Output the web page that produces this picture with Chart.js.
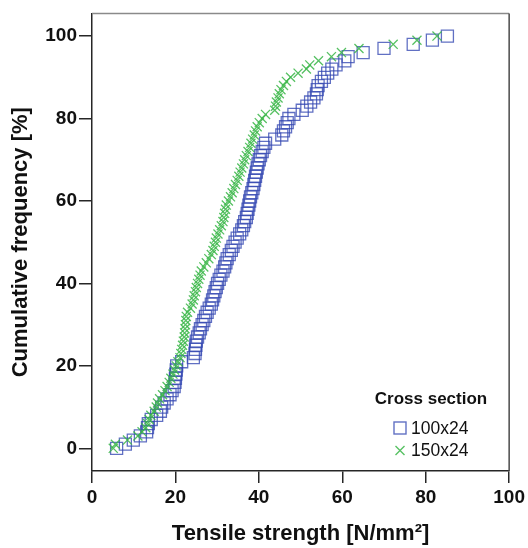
<!DOCTYPE html>
<html>
<head>
<meta charset="utf-8">
<script src="https://cdn.jsdelivr.net/npm/chart.js@4/dist/chart.umd.min.js"></script>
<style>
  html, body { margin: 0; padding: 0; background: #ffffff; }
  #wrap { width: 528px; height: 548px; }
</style>
</head>
<body>
<div id="wrap"><canvas id="c" width="528" height="548"></canvas></div>
<script>
// ---- data (tensile strength, N/mm², sorted) ----
const seriesNames = ["100x24", "150x24"];
const strength100x24 = [
  5.9, 8.0, 9.9, 11.6, 13.1, 13.3, 13.5, 14.2, 15.5, 16.4,
  16.7, 17.3, 18.0, 18.7, 19.2, 19.7, 19.9, 20.0, 20.1, 20.2,
  20.3, 21.5, 24.3, 24.7, 24.8, 24.9, 25.0, 25.3, 25.7, 26.0,
  26.4, 26.8, 27.2, 27.6, 28.1, 28.6, 28.9, 29.2, 29.5, 29.8,
  30.1, 30.5, 30.9, 31.4, 31.8, 32.1, 32.4, 32.9, 33.4, 33.8,
  34.3, 34.8, 35.4, 35.9, 36.3, 36.6, 37.0, 37.2, 37.4, 37.6,
  37.8, 38.0, 38.3, 38.6, 38.8, 39.0, 39.2, 39.4, 39.6, 39.8,
  40.1, 40.4, 40.8, 41.2, 41.6, 43.8, 45.5, 45.9, 46.4, 46.8,
  47.2, 48.4, 50.4, 51.5, 52.4, 53.2, 53.8, 54.0, 54.2, 55.0,
  55.7, 56.5, 57.5, 58.5, 60.6, 61.4, 65.0, 70.0, 77.0, 81.6,
  85.2
];
const strength150x24 = [
  5.1, 5.6, 8.5, 11.0, 12.0, 12.9, 13.3, 13.7, 14.1, 14.9,
  15.4, 15.7, 16.2, 16.9, 17.5, 18.0, 18.5, 18.9, 19.4, 19.8,
  20.2, 20.6, 21.1, 21.3, 21.5, 21.7, 21.9, 22.1, 22.2, 22.3,
  22.4, 22.5, 22.6, 22.9, 23.6, 24.0, 24.3, 24.5, 24.8, 25.0,
  25.3, 25.6, 25.9, 26.2, 26.8, 27.4, 28.0, 28.6, 29.0, 29.3,
  29.6, 29.8, 30.2, 30.6, 31.0, 31.4, 31.6, 31.8, 32.0, 32.2,
  32.7, 33.2, 33.6, 34.0, 34.4, 34.8, 35.2, 35.5, 35.9, 36.3,
  36.6, 37.0, 37.4, 37.8, 38.1, 38.5, 38.9, 39.2, 39.6, 40.1,
  40.8, 41.6, 43.8, 44.0, 44.2, 44.6, 44.9, 45.3, 45.9, 46.6,
  47.6, 49.4, 51.4, 52.2, 54.3, 57.4, 59.8, 64.0, 72.2, 77.9,
  82.7
];
const xTickValues = [0, 20, 40, 60, 80, 100];
const yTickValues = [0, 20, 40, 60, 80, 100];
const legendTitle = "Cross section";
const xTitle = "Tensile strength [N/mm²]";
const yTitle = "Cumulative frequency [%]";

// empirical cumulative frequency (%) of each sorted sample
function cumulative(values) {
  const s = values.slice().sort((a, b) => a - b);
  const n = s.length;
  return s.map((v, i) => ({ x: v, y: (i / (n - 1)) * 100 }));
}

const FONT = '"Liberation Sans", Arial, Helvetica, sans-serif';
const BLUE = 'rgba(52, 72, 178, 0.78)';
const GREEN = 'rgba(58, 182, 72, 0.85)';
const AXIS = '#262626';

const framePlugin = {
  id: 'frame',
  afterDraw(chart) {
    const { ctx, chartArea: a } = chart;
    ctx.save();
    ctx.strokeStyle = '#8a8a8a';
    ctx.lineWidth = 1.5;
    ctx.beginPath();
    ctx.moveTo(a.left, a.top);
    ctx.lineTo(a.right, a.top);
    ctx.stroke();
    ctx.strokeStyle = '#4a4a4a';
    ctx.beginPath();
    ctx.moveTo(a.right, a.top);
    ctx.lineTo(a.right, a.bottom);
    ctx.stroke();

    // legend inside the plot
    ctx.fillStyle = '#111';
    ctx.textBaseline = 'middle';
    ctx.textAlign = 'center';
    ctx.font = 'bold 17px ' + FONT;
    ctx.fillText(legendTitle, 431, 399);
    ctx.textAlign = 'left';
    ctx.font = '17.5px ' + FONT;
    ctx.fillText(seriesNames[0], 411, 429);
    ctx.fillText(seriesNames[1], 411, 451);
    // markers
    ctx.lineWidth = 1.4;
    ctx.strokeStyle = BLUE;
    ctx.strokeRect(394, 422, 12, 12);
    ctx.strokeStyle = GREEN;
    ctx.beginPath();
    ctx.moveTo(395.5, 446); ctx.lineTo(404.5, 455);
    ctx.moveTo(404.5, 446); ctx.lineTo(395.5, 455);
    ctx.stroke();
    ctx.restore();
  }
};

new Chart(document.getElementById('c'), {
  type: 'scatter',
  data: {
    datasets: [
      {
        label: seriesNames[0],
        data: cumulative(strength100x24),
        pointStyle: 'rect',
        pointRadius: 8.5,
        pointHoverRadius: 8.5,
        borderWidth: 1.3,
        borderColor: BLUE,
        backgroundColor: 'rgba(0,0,0,0)',
        order: 2
      },
      {
        label: seriesNames[1],
        data: cumulative(strength150x24),
        pointStyle: 'crossRot',
        pointRadius: 6.4,
        pointHoverRadius: 6.4,
        borderWidth: 1.3,
        borderColor: GREEN,
        backgroundColor: GREEN,
        order: 1
      }
    ]
  },
  options: {
    responsive: false,
    animation: false,
    devicePixelRatio: 1,
    layout: { padding: { top: 12, right: 18, left: 0, bottom: 0 } },
    plugins: {
      legend: { display: false },
      tooltip: { enabled: false }
    },
    scales: {
      x: {
        type: 'linear',
        min: 0,
        max: 100,
        afterBuildTicks(scale) { scale.ticks = xTickValues.map(v => ({ value: v })); },
        afterFit(scale) { scale.height = 77; },
        grid: { display: true, drawOnChartArea: false, drawTicks: true, tickLength: 12, color: AXIS, lineWidth: 1.5 },
        border: { display: true, color: AXIS, width: 1.5 },
        ticks: { color: '#111', padding: 3, maxRotation: 0, font: { family: FONT, size: 19, weight: 'bold' } },
        title: { display: true, text: xTitle, color: '#111', padding: { top: 0, bottom: 1 }, font: { family: FONT, size: 22, weight: 'bold' } }
      },
      y: {
        type: 'linear',
        min: -5.5,
        max: 105.5,
        afterBuildTicks(scale) { scale.ticks = yTickValues.map(v => ({ value: v })); },
        afterFit(scale) { scale.width = 92; },
        grid: { display: true, drawOnChartArea: false, drawTicks: true, tickLength: 13, color: AXIS, lineWidth: 1.5 },
        border: { display: true, color: AXIS, width: 1.5 },
        ticks: { color: '#111', padding: 2, font: { family: FONT, size: 19, weight: 'bold' } },
        title: { display: true, text: yTitle, color: '#111', padding: { top: 8, bottom: 0 }, font: { family: FONT, size: 22, weight: 'bold' } }
      }
    }
  },
  plugins: [framePlugin]
});
</script>
</body>
</html>
